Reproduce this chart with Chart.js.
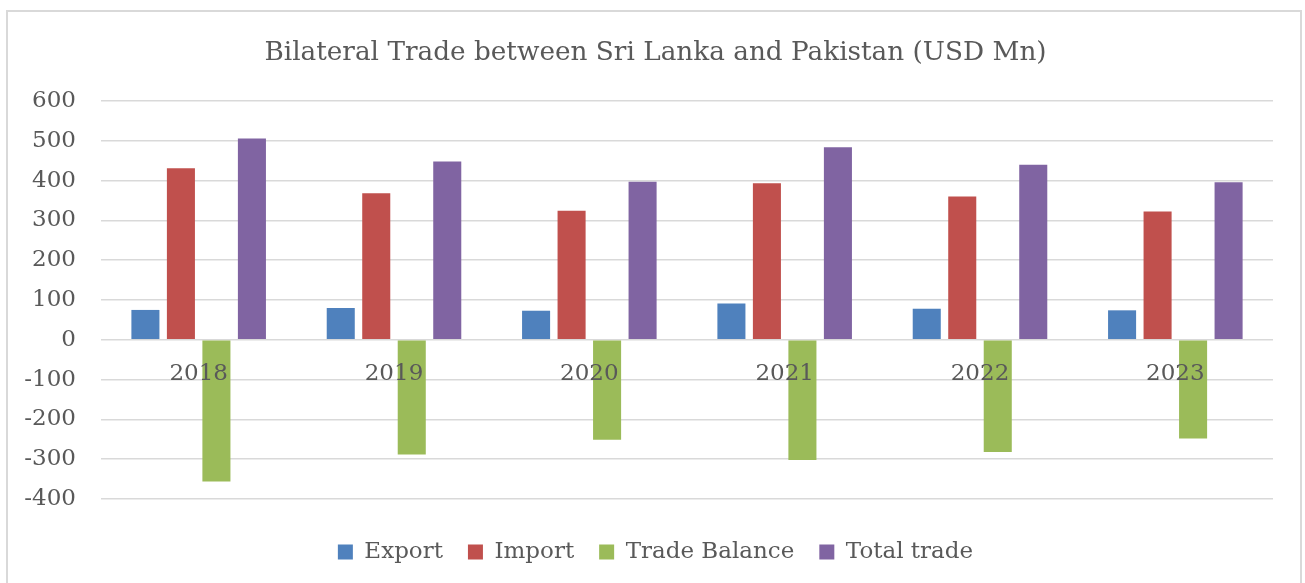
<!DOCTYPE html>
<html>
<head>
<meta charset="utf-8">
<script src="https://cdn.jsdelivr.net/npm/chart.js@4.4.1/dist/chart.umd.min.js"></script>
<style>
  html, body { margin: 0; padding: 0; background: #fff; overflow: hidden; }
  #frame {
    position: absolute; left: 6px; top: 10px; width: 1292px; height: 600px;
    border: 2px solid #d9d9d9; border-bottom: none;
  }
  #wrap { position: absolute; left: 0; top: 0; width: 1305px; height: 583px; }
</style>
</head>
<body>
<div id="frame"></div>
<div id="wrap"><canvas id="tradeChart"></canvas></div>
<script>
const YEARS = ['2018', '2019', '2020', '2021', '2022', '2023'];
const EXPORT = [75, 80, 73, 91, 78, 74];
const IMPORT = [431, 368, 324, 393, 360, 322];
const TRADE_BALANCE = [-356, -288, -251, -302, -282, -248];
const TOTAL_TRADE = [506, 448, 397, 484, 440, 396];

const FONT = 'DejaVu Serif';
const TEXT = '#595959';
const GRID = '#d9d9d9';

const series = [
  { label: 'Export', data: EXPORT, color: '#4f81bd' },
  { label: 'Import', data: IMPORT, color: '#c0504d' },
  { label: 'Trade Balance', data: TRADE_BALANCE, color: '#9bbb59' },
  { label: 'Total trade', data: TOTAL_TRADE, color: '#8064a2' },
];

new Chart(document.getElementById('tradeChart'), {
  type: 'bar',
  data: {
    labels: YEARS,
    datasets: series.map((s) => ({
      label: s.label,
      data: s.data,
      backgroundColor: s.color,
      borderWidth: 0,
      categoryPercentage: 0.727,
      barPercentage: 0.79,
    })),
  },
  options: {
    responsive: true,
    maintainAspectRatio: false,
    animation: false,
    layout: { padding: { top: 37.7, left: 6, right: 0, bottom: 9.5 } },
    plugins: {
      title: {
        display: true,
        text: 'Bilateral Trade between Sri Lanka and Pakistan (USD Mn)',
        color: TEXT,
        font: { family: FONT, size: 26.3, weight: 'normal' },
        padding: { top: 0, bottom: 31.7 },
      },
      legend: {
        position: 'bottom',
        // empty title only adds the gap between plot and legend
        title: { display: true, text: '', font: { size: 10 }, padding: { top: 4.5, bottom: 0 } },
        labels: {
          color: TEXT,
          font: { family: FONT, size: 23 },
          boxWidth: 15,
          boxHeight: 15,
          padding: 25,
        },
      },
      tooltip: { enabled: false },
    },
    scales: {
      x: {
        position: { y: 0 },
        grid: { display: false, drawTicks: false },
        border: { display: false },
        ticks: { z: 1, color: TEXT, font: { family: FONT, size: 23 }, padding: 20, maxRotation: 0 },
      },
      y: {
        min: -400,
        max: 600,
        afterFit: (s) => { s.width = 95; },
        grid: { color: GRID, lineWidth: 1.5, drawTicks: false },
        border: { display: false },
        ticks: { stepSize: 100, color: TEXT, font: { family: FONT, size: 23 }, padding: 25 },
      },
      yRight: {
        position: 'right',
        afterFit: (s) => { s.width = 32; },
        grid: { display: false, drawTicks: false },
        border: { display: false },
        ticks: { display: false },
      },
    },
  },
});
</script>
</body>
</html>
